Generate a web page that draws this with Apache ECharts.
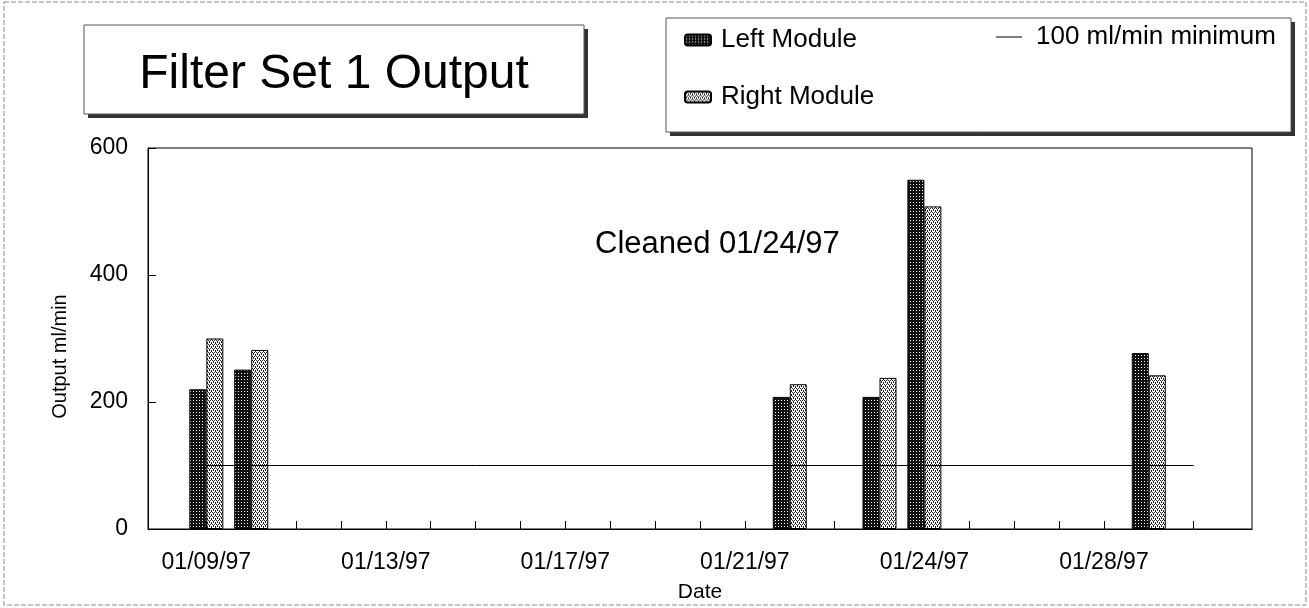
<!DOCTYPE html>
<html>
<head>
<meta charset="utf-8">
<title>Filter Set 1 Output</title>
<script src="https://cdn.jsdelivr.net/npm/echarts@6/dist/echarts.min.js"></script>
<style>
  html, body { margin: 0; padding: 0; background: #fff; }
  #chart { width: 1309px; height: 608px; }
</style>
</head>
<body>
<div id="chart"></div>
<script>
// one slot per reading; 01/24 has two readings (before / after cleaning)
const dates = [
  '01/09/97', '01/10/97', '01/11/97', '01/12/97', '01/13/97', '01/14/97',
  '01/15/97', '01/16/97', '01/17/97', '01/18/97', '01/19/97', '01/20/97',
  '01/21/97', '01/22/97', '01/23/97', '01/24/97', '01/24/97', '01/25/97',
  '01/26/97', '01/27/97', '01/28/97', '01/29/97', '01/30/97'
]
const labelSlots = [0, 4, 8, 12, 16, 20]
const leftModule = [220, 251, null, null, null, null, null, null, null, null, null, null,
  null, 208, null, 208, 550, null, null, null, null, 277, null]
const rightModule = [300, 282, null, null, null, null, null, null, null, null, null, null,
  null, 228, null, 238, 508, null, null, null, null, 242, null]
const minimum = [100, 100, 100, 100, 100, 100, 100, 100, 100, 100, 100, 100,
  100, 100, 100, 100, 100, 100, 100, 100, 100, 100, 100]
const yTicks = [0, 200, 400, 600]

const FONT = "'Liberation Sans', Arial, sans-serif"

// halftone fills like the old print
const makePattern = (bg, fg, dots, size) => {
  const c = document.createElement('canvas')
  c.width = size
  c.height = size
  const ctx = c.getContext('2d')
  ctx.fillStyle = bg
  ctx.fillRect(0, 0, size, size)
  ctx.fillStyle = fg
  dots.forEach(d => ctx.fillRect(d[0], d[1], 1, 1))
  return c
}
const darkFill = { image: makePattern('#111', '#fff', [[1, 1]], 3), repeat: 'repeat' }
const lightFill = { image: makePattern('#fff', '#222', [[0, 0], [2, 0], [1, 2], [3, 2], [1, 1], [3, 3]], 4), repeat: 'repeat' }

const toPoints = arr => arr.map((v, i) => (v == null ? null : [i, v])).filter(p => p)

const chart = echarts.init(document.getElementById('chart'))

chart.setOption({
  animation: false,
  backgroundColor: '#fff',
  textStyle: { fontFamily: FONT, color: '#000' },
  grid: {
    left: 148, right: 57, top: 148, bottom: 77,
    show: true, borderColor: '#000', borderWidth: 1
  },
  legend: [
    {
      data: ['Left Module', 'Right Module'],
      orient: 'vertical',
      left: 679, top: 22,
      itemWidth: 26, itemHeight: 11, itemGap: 31,
      textStyle: { fontSize: 26, fontFamily: FONT, color: '#000', padding: [0, 0, 0, 5] },
      z: 5
    },
    {
      data: [{ name: '100 ml/min minimum', icon: 'rect' }],
      left: 991, top: 19,
      itemWidth: 26, itemHeight: 1,
      textStyle: { fontSize: 26, fontFamily: FONT, color: '#000', padding: [0, 0, 0, 9] },
      z: 5
    }
  ],
  xAxis: {
    type: 'value',
    min: -1.3,
    max: 23.3,
    name: 'Date',
    nameLocation: 'middle',
    nameGap: 53,
    nameTextStyle: { fontSize: 21, fontFamily: FONT, color: '#000' },
    axisLine: { show: true, onZero: false, lineStyle: { color: '#000', width: 1 } },
    axisTick: {
      show: true, inside: true, length: 8,
      customValues: dates.map((d, i) => i),
      lineStyle: { color: '#000' }
    },
    axisLabel: {
      customValues: labelSlots,
      formatter: v => dates[v],
      fontSize: 23, margin: 22, color: '#000', fontFamily: FONT
    },
    splitLine: { show: false }
  },
  yAxis: {
    type: 'value',
    min: 0,
    max: 600,
    name: 'Output ml/min',
    nameLocation: 'middle',
    nameGap: 78,
    nameTextStyle: { fontSize: 20, fontFamily: FONT, color: '#000', padding: [0, 36, 0, 0] },
    axisLine: { show: true, onZero: false, lineStyle: { color: '#000', width: 1 } },
    axisTick: {
      show: true, inside: true, length: 8,
      customValues: yTicks,
      lineStyle: { color: '#000' }
    },
    axisLabel: {
      customValues: yTicks,
      fontSize: 23, margin: 20, color: '#000', fontFamily: FONT
    },
    splitLine: { show: false }
  },
  series: [
    {
      name: 'Left Module',
      type: 'bar',
      data: toPoints(leftModule),
      barWidth: 17,
      barGap: '0%',
      itemStyle: { color: darkFill, borderColor: '#000', borderWidth: 1 },
      z: 2
    },
    {
      name: 'Right Module',
      type: 'bar',
      data: toPoints(rightModule),
      barWidth: 17,
      barGap: '0%',
      itemStyle: { color: lightFill, borderColor: '#000', borderWidth: 1 },
      z: 2
    },
    {
      name: '100 ml/min minimum',
      type: 'line',
      data: toPoints(minimum),
      symbol: 'none',
      lineStyle: { color: '#000', width: 1 },
      itemStyle: { color: '#000' },
      z: 4
    }
  ],
  graphic: [
    // outer frame of the page
    {
      type: 'rect', silent: true, z: 0,
      shape: { x: 4, y: 2, width: 1302, height: 603 },
      style: { fill: null, stroke: '#888', lineWidth: 1, lineDash: [5, 2] }
    },
    // title box with drop shadow
    {
      type: 'rect', silent: true, z: 0,
      shape: { x: 88, y: 29, width: 500, height: 89 },
      style: { fill: '#333' }
    },
    {
      type: 'rect', silent: true, z: 1,
      shape: { x: 84, y: 25, width: 500, height: 89 },
      style: { fill: '#fff', stroke: '#555', lineWidth: 1 }
    },
    {
      type: 'text', silent: true, z: 2,
      x: 334, y: 75,
      style: {
        text: 'Filter Set 1 Output',
        font: '48px ' + FONT,
        fill: '#000',
        align: 'center',
        verticalAlign: 'middle'
      }
    },
    // legend box with drop shadow
    {
      type: 'rect', silent: true, z: 0,
      shape: { x: 670, y: 22, width: 625, height: 114 },
      style: { fill: '#333' }
    },
    {
      type: 'rect', silent: true, z: 1,
      shape: { x: 666, y: 18, width: 625, height: 114 },
      style: { fill: '#fff', stroke: '#555', lineWidth: 1 }
    },
    // annotation
    {
      type: 'text', silent: true, z: 3,
      x: 595, y: 244,
      style: {
        text: 'Cleaned 01/24/97',
        font: '31px ' + FONT,
        fill: '#000',
        verticalAlign: 'middle'
      }
    }
  ]
})
</script>
</body>
</html>
